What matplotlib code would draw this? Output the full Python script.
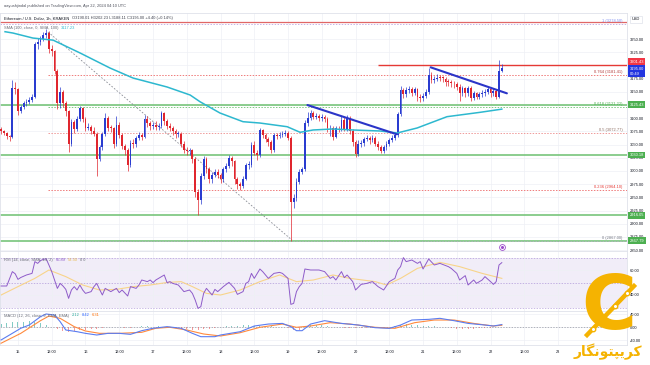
#!/usr/bin/env python3
# plot.py - ETH/USD 1h chart (Kraken) with SMA100, fib levels, RSI and MACD panes

import numpy as np
import matplotlib
matplotlib.use('Agg')
import matplotlib.pyplot as plt
from matplotlib.lines import Line2D
from matplotlib.transforms import blended_transform_factory, offset_copy

# ---- candles, one per hour, index 0 = Apr 14 18:00 ----
closes = [3075, 3072, 3066, 3064, 3157, 3155, 3114, 3122, 3128, 3131,
          3135, 3140, 3240, 3244, 3250, 3258, 3262, 3231, 3227, 3190,
          3128, 3150, 3128, 3113, 3052, 3093, 3080, 3099, 3119, 3098,
          3082, 3084, 3076, 3071, 3023, 3045, 3070, 3101, 3082, 3081,
          3052, 3088, 3068, 3048, 3040, 3011, 3053, 3051, 3062, 3068,
          3065, 3099, 3090, 3085, 3088, 3084, 3085, 3109, 3094, 3085,
          3082, 3075, 3070, 3070, 3052, 3040, 3037, 3039, 3023, 2960,
          2945, 2990, 3022, 3003, 2984, 2993, 2999, 2992, 2985, 3004,
          3010, 3024, 3018, 2984, 2975, 2971, 2985, 3011, 3012, 3049,
          3035, 3030, 3077, 3068, 3060, 3054, 3040, 3068, 3066, 3069,
          3070, 3072, 3063, 2942, 2948, 2980, 2999, 3003, 3090, 3100,
          3109, 3103, 3104, 3100, 3102, 3099, 3081, 3082, 3065, 3081,
          3080, 3097, 3080, 3100, 3076, 3055, 3033, 3052, 3053, 3060,
          3062, 3058, 3062, 3052, 3046, 3038, 3045, 3052, 3058, 3063,
          3068, 3108, 3154, 3145, 3154, 3156, 3148, 3155, 3140, 3138,
          3143, 3150, 3182, 3172, 3175, 3177, 3176, 3175, 3169, 3168,
          3166, 3165, 3160, 3147, 3157, 3147, 3158, 3138, 3147, 3141,
          3146, 3148, 3150, 3156, 3147, 3152, 3141, 3190.01, 3195.00]
highs = [3084, 3078, 3074, 3069, 3172, 3168, 3158, 3126, 3133, 3136,
         3140, 3146, 3244, 3252, 3256, 3264, 3270, 3266, 3238, 3230,
         3194, 3160, 3154, 3132, 3116, 3098, 3097, 3104, 3124, 3122,
         3102, 3090, 3088, 3084, 3074, 3050, 3074, 3110, 3104, 3088,
         3084, 3104, 3092, 3072, 3052, 3044, 3058, 3060, 3066, 3074,
         3072, 3106, 3104, 3094, 3092, 3094, 3090, 3114, 3112, 3098,
         3090, 3086, 3080, 3076, 3074, 3056, 3046, 3044, 3042, 3026,
         2966, 2996, 3028, 3026, 3008, 2998, 3004, 3004, 2996, 3008,
         3016, 3030, 3028, 3020, 2988, 2980, 2990, 3016, 3018, 3054,
         3056, 3040, 3082, 3080, 3072, 3064, 3058, 3072, 3072, 3074,
         3076, 3078, 3076, 3066, 2956, 2986, 3004, 3008, 3096, 3112,
         3116, 3114, 3110, 3108, 3108, 3106, 3102, 3088, 3086, 3086,
         3086, 3104, 3102, 3106, 3104, 3080, 3058, 3058, 3058, 3064,
         3068, 3066, 3068, 3066, 3056, 3050, 3050, 3056, 3062, 3068,
         3074, 3112, 3162, 3158, 3160, 3162, 3160, 3160, 3158, 3146,
         3148, 3156, 3196, 3188, 3180, 3184, 3182, 3180, 3178, 3174,
         3172, 3170, 3168, 3164, 3162, 3160, 3162, 3162, 3152, 3150,
         3150, 3154, 3156, 3160, 3160, 3158, 3156, 3210, 3202.23]
lows = [3070, 3068, 3060, 3056, 3062, 3146, 3106, 3110, 3118, 3124,
        3127, 3130, 3138, 3232, 3238, 3246, 3252, 3224, 3218, 3184,
        3118, 3120, 3122, 3104, 3036, 3048, 3072, 3076, 3094, 3092,
        3076, 3078, 3070, 3066, 2990, 3018, 3040, 3066, 3076, 3074,
        3044, 3048, 3062, 3042, 3030, 3000, 3008, 3044, 3046, 3058,
        3058, 3062, 3084, 3078, 3080, 3078, 3078, 3082, 3088, 3080,
        3076, 3068, 3062, 3064, 3046, 3034, 3030, 3030, 3016, 2950,
        2916, 2938, 2984, 2996, 2978, 2978, 2988, 2986, 2978, 2980,
        2998, 3006, 3010, 2976, 2966, 2964, 2968, 2982, 3004, 3008,
        3030, 3020, 3026, 3062, 3054, 3048, 3034, 3036, 3060, 3062,
        3064, 3066, 3058, 2867, 2930, 2944, 2976, 2994, 3000, 3086,
        3096, 3098, 3098, 3094, 3094, 3092, 3074, 3066, 3058, 3062,
        3074, 3076, 3076, 3076, 3070, 3048, 3026, 3028, 3046, 3048,
        3056, 3052, 3054, 3048, 3040, 3034, 3034, 3040, 3048, 3054,
        3058, 3064, 3104, 3138, 3140, 3148, 3142, 3144, 3132, 3130,
        3132, 3138, 3146, 3166, 3166, 3170, 3170, 3168, 3162, 3162,
        3160, 3158, 3154, 3132, 3142, 3140, 3142, 3132, 3134, 3136,
        3136, 3140, 3142, 3146, 3140, 3142, 3136, 3138, 3188.11]
first_open = 3080

# SMA 100 (sampled along the curve)
sma_idx = [1.4, 4.2, 11.3, 18.5, 28.1, 38.7, 46.9, 59.0, 67.2, 70.7, 77.8, 86.0,
           92.0, 101.7, 106.3, 110.9, 118.0, 125.1, 134.7, 140.8, 147.9, 158.5,
           170.3, 178.0]
sma_val = [3264, 3261.5, 3252, 3248, 3223.6, 3195.2, 3176.2, 3159.2, 3144, 3131.3,
           3109.9, 3093.4, 3090.9, 3083.9, 3073.3, 3077.7, 3079.6, 3077.7, 3075.8,
           3072, 3081.5, 3102.9, 3111.2, 3117.23]

# horizontal levels
green_levels = [3125.43, 3030.18, 2916.05, 2867.79]
resistance = 3201.43
top_line = 3283.0
fib_names = ['1', '0.764', '0.618', '0.5', '0.236', '0']
fib_prices = [3278.50, 3181.41, 3121.22, 3072.77, 2964.10, 2867.00]
fib_colors = ['#7e8ef0', '#b33a3a', '#4caf50', '#8d6e63', '#e53935', '#787b86']
fib_line_colors = ['#c5b3e6', '#ef7b7b', '#81c784', '#ef9a9a', '#ef7b7b', '#b0b3bb']

# drawings: (index, price) end points
trend1 = [(108.9, 3125.0), (140.7, 3069.5)]
trend2 = [(152.7, 3196.5), (179.8, 3147.2)]
fib_diag = [(16.7, 3263.4), (103.4, 2869.1)]

# RSI 14 and its SMA 14
rsi_idx = [0, 2, 4, 5, 6, 7, 9, 11, 12, 13,
           14, 15, 16, 17, 18, 19, 20, 21, 22, 23,
           24, 25, 26, 27, 28, 29, 30, 32, 33, 34,
           35, 36, 37, 39, 40, 41, 42, 43, 45, 46,
           48, 49, 50, 52, 53, 54, 55, 58, 59, 60,
           61, 63, 64, 65, 67, 68, 69, 70, 71, 72,
           73, 74, 75, 76, 77, 79, 81, 83, 84, 86,
           87, 88, 89, 90, 92, 93, 95, 97, 99, 100,
           102, 103, 104, 105, 106, 107, 108, 110, 112, 113,
           115, 117, 118, 119, 121, 122, 123, 125, 126, 128,
           130, 132, 134, 136, 138, 140, 141, 142, 143, 144,
           146, 148, 149, 150, 152, 154, 156, 159, 160, 162,
           163, 165, 166, 168, 169, 171, 172, 174, 175, 176,
           177, 178]
rsi_val = [47.2, 47.2, 58.7, 57.0, 52.5, 54.0, 56.0, 57.3, 66.7, 65.3,
           67.5, 68.5, 69.0, 64.0, 58.7, 52.0, 45.3, 49.3, 47.2, 44.5,
           37.3, 44.0, 46.7, 44.0, 48.0, 44.0, 41.3, 42.7, 46.7, 49.3,
           44.5, 40.0, 45.3, 42.7, 44.0, 45.3, 41.9, 44.0, 39.2, 46.7,
           45.3, 48.0, 52.0, 50.7, 52.0, 49.9, 52.0, 56.0, 49.9, 50.7,
           49.3, 48.0, 45.3, 42.7, 44.0, 41.3, 36.0, 29.3, 30.7, 41.3,
           45.3, 42.7, 40.0, 44.5, 42.7, 46.7, 50.1, 45.3, 40.5, 42.7,
           49.3, 50.7, 57.3, 53.3, 60.8, 58.7, 53.3, 57.3, 58.1, 57.3,
           53.3, 32.5, 33.3, 42.7, 46.7, 49.3, 60.8, 60.0, 60.0, 60.0,
           58.7, 53.3, 54.7, 52.0, 58.7, 53.9, 56.0, 50.7, 44.0, 48.5,
           49.3, 50.7, 46.7, 44.0, 50.7, 53.3, 60.0, 62.7, 69.9, 66.7,
           68.0, 65.3, 66.7, 60.8, 68.8, 64.0, 65.3, 62.7, 61.3, 57.3,
           52.0, 55.5, 48.0, 52.0, 49.3, 52.0, 54.7, 50.7, 48.5, 50.7,
           64.0, 65.89]
rsi_ma_idx = [0, 6, 12, 17, 23, 29, 35, 41, 47, 53, 59, 64, 68, 73, 78,
              85, 92, 99, 105, 111, 118, 124, 133, 137, 142, 148, 156, 163, 171, 178]
rsi_ma_val = [40.0, 46.7, 53.3, 60.0, 54.7, 48.0, 44.0, 44.5, 46.7, 48.0, 50.0, 50.7, 46.7, 41.3, 40.0,
              44.0, 50.7, 56.0, 50.7, 52.0, 56.0, 53.3, 50.7, 48.0, 53.3, 61.3, 66.1, 62.7, 57.3, 53.3]

# MACD 12/26/9
macd_idx = [0, 3, 7, 10, 14, 16, 19, 21, 23, 27,
            30, 34, 38, 42, 46, 50, 54, 59, 64, 68,
            71, 76, 78, 85, 90, 95, 100, 103, 105, 107,
            110, 115, 121, 127, 133, 138, 142, 146, 152, 156,
            161, 166, 172, 175, 178]
macd_val = [-39, -23.7, -3, 7, 32.7, 41, 37.8, 17.3, -8.3, -13.5,
            -18.6, -23.7, -18.6, -18.6, -21.7, -10.4, -3, 2, -3, -18.6,
            -28.9, -28.9, -23.7, -13.5, 4, 10, 12, 2, -10.4, -10.4,
            10, 20.4, 12, 7, -1.2, -3.2, 7, 22.4, 24.5, 27.6,
            20.4, 12, 7, 4, 8.43]
sig_idx = [0, 7, 14, 17, 21, 26, 30, 35, 42, 50, 55, 60, 66, 72, 78,
           85, 92, 100, 105, 110, 117, 124, 133, 140, 147, 154, 161, 168, 175, 178]
sig_val = [-49, -18.6, 20.4, 34.7, 27.6, 2, -11.4, -18.6, -18.6, -15.5, -3, 0, -8.3, -20.6, -26.8,
           -16.6, 0, 10, 0, 4, 14.2, 10, 0, -3.2, 14.2, 22.4, 22.4, 12, 4, 6.31]
hist_val = [10, 12, 15, 16, 17, 18, 16, 12, 7, 2,
            -6, -12, -13, -12, -9, -7, -6, -4, -2, 0,
            1, 0, -2, -3, 2, 5, 5, 3, 3, 2,
            1, -1, -3, -5, -7, -8, -6, -4, -2, 2,
            4, 5, 5, 6, 6, 5, 5, 4, 3, 2,
            2, -2, -9, -8, 2, 7, 8, 7, 4, 2,
            0, -1, -2, -3, -3, -2, -2, -1, -1, 0,
            5, 8, 9, 8, 6, 4, 3, 3, 2, 0,
            -2, -4, -5, -5, -4, -3, -2, -1, 0, 2.1]

# time axis: ticks every 12h, Apr 15 00:00 is index 6
time_labels = ['15', '12:00', '16', '12:00', '17', '12:00', '18', '12:00', '19',
               '12:00', '20', '12:00', '21', '12:00', '22', '12:00', '23']
time_pos = [6 + 12 * k for k in range(len(time_labels))]

W, H = 650, 365
UP, DOWN = '#2a3cd0', '#e0262e'
GRID = '#eef0f5'
TXT = '#131722'
GREY = '#6a6d78'

plt.rcParams['font.family'] = ['Liberation Sans', 'DejaVu Sans']

fig = plt.figure(figsize=(W / 100, H / 100), dpi=100)


def pane(top, bottom):
    return [0, 1 - bottom / H, 627 / W, (bottom - top) / H]


def chain(xp, yp, parts, size=2.9):
    r = fig.canvas.get_renderer()
    for s, col in parts:
        t = fig.text(xp / W, 1 - yp / H, s, fontsize=size, color=col, va='center')
        xp += t.get_window_extent(r).width + 2.5


ax = fig.add_axes(pane(13.3, 251))
ax_rsi = fig.add_axes(pane(251, 311), sharex=ax)
ax_macd = fig.add_axes(pane(311, 345), sharex=ax)

for a in (ax, ax_rsi, ax_macd):
    for s in a.spines.values():
        s.set_color('#dfe2ea')
        s.set_linewidth(0.6)
    a.yaxis.tick_right()
    a.tick_params(length=0, labelsize=2.9, labelcolor=TXT, pad=1.8)
    a.grid(True, color=GRID, lw=0.5)
    a.set_axisbelow(True)
ax_macd.set_xticks(time_pos)
ax_macd.set_xticklabels(time_labels)
ax_macd.tick_params(axis='x', pad=3.6, labelsize=2.8)
ax.tick_params(axis='x', labelbottom=False)
ax_rsi.tick_params(axis='x', labelbottom=False)
ax.set_xlim(-0.39, 222.5)

# ---- main pane ----
ax.set_ylim(2848.3, 3298.9)
pticks = np.arange(2850, 3251, 25)
ax.set_yticks(pticks)
ax.set_yticklabels([f'{v:.2f}' for v in pticks])

x = np.arange(len(closes))
c = np.array(closes, float)
o = np.concatenate([[first_open], c[:-1]])
col = np.where(c >= o, UP, DOWN)
body = c - o
body = np.where(np.abs(body) < 1.3, 1.3, body)
ax.vlines(x, lows, highs, colors=col, lw=0.5, zorder=3)
ax.bar(x, body, bottom=o, width=0.64, color=col, lw=0, zorder=4)

for lv in green_levels:
    ax.axhline(lv, color='#6cc070', lw=1.1, zorder=2)
ax.axhline(top_line, color='#e06666', lw=0.9, zorder=2)
ax.hlines(resistance, 134, 222.5, color='#e53935', lw=1.0, zorder=2)

for i, (name, p) in enumerate(zip(fib_names, fib_prices)):
    x0 = -0.39 if name == '1' else fib_diag[0][0]
    ax.hlines(p, x0, 222.5, color=fib_line_colors[i], lw=0.7, ls=(0, (1.5, 1.5)), zorder=2)
    ax.text(221, p + 2, f'{name} ({p:.2f})', ha='right', va='bottom', fontsize=2.9,
            color=fib_colors[i], zorder=7)

(dx0, dy0), (dx1, dy1) = fib_diag
ax.plot([dx0, dx1], [dy0, dy1], color='#8a8d96', lw=0.6, ls=(0, (2, 2)), zorder=2)

ax.plot(sma_idx, sma_val, color='#2db8cf', lw=1.1, zorder=5)

for tl in (trend1, trend2):
    (a0, b0), (a1, b1) = tl
    ax.plot([a0, a1], [b0, b1], color='#2b35c8', lw=1.5, solid_capstyle='round', zorder=6)

ax.plot(178, 2855, 'o', ms=4.2, mfc='white', mec='#9c4dcc', mew=0.6, zorder=7, clip_on=False)
ax.plot(178, 2855, 'o', ms=1.2, color='#9c4dcc', zorder=8, clip_on=False)

# price tags on the axis
axis_tr = blended_transform_factory(ax.transAxes, ax.transData)


def tag(price, text, color, dy=0):
    tr = offset_copy(axis_tr, fig=fig, x=0, y=dy, units='dots')
    ax.text(1.0 + 2.5 / 627, price, text, transform=tr, ha='left', va='center',
            fontsize=2.9, color='white', clip_on=False, zorder=10, linespacing=1.3,
            bbox=dict(boxstyle='square,pad=0.35', fc=color, ec='none'))


for lv in green_levels:
    tag(lv, f'{lv:.2f}', '#4caf50')
tag(resistance, f'{resistance:.2f}', '#f23645', dy=3)
tag(closes[-1], f'{closes[-1]:.2f}\n00:49', '#2436e0', dy=-3)
ax.text(1.0 + 5 / 627, 1 - 6 / 237.7, 'USD', transform=ax.transAxes, fontsize=2.9,
        color=TXT, va='center', ha='left', clip_on=False,
        bbox=dict(boxstyle='square,pad=0.4', fc='white', ec='#dfe2ea', lw=0.5))

# legend texts
chain(4, 5.5, [('aayushjindal published on TradingView.com, Apr 22, 2024 04:10 UTC', '#50535e')])
chain(4, 18.5, [('Ethereum / U.S. Dollar, 1h, KRAKEN', TXT),
                ('O3190.01 H3202.23 L3188.11 C3195.00 +4.40 (+0.14%)', '#40434e')])
chain(4, 28, [('SMA (100, close, 0, SMA, 100)', GREY), ('3117.23', '#2db8cf')])

# ---- RSI pane ----
ax_rsi.set_ylim(27.2, 75.2)
ax_rsi.set_yticks([40, 60])
ax_rsi.set_yticklabels(['40.00', '60.00'])
ax_rsi.axhspan(30, 70, color='#7e57c2', alpha=0.1, lw=0, zorder=0)
for lv in (70, 50, 30):
    ax_rsi.axhline(lv, color='#9575cd', lw=0.5, ls=(0, (2, 2)), alpha=0.7, zorder=1)
ax_rsi.plot(rsi_ma_idx, rsi_ma_val, color='#f8d48a', lw=0.8, zorder=2)
ax_rsi.plot(rsi_idx, rsi_val, color='#8e5bc9', lw=0.7, zorder=3)
chain(4, 260, [('RSI (14, close, SMA, 14, 2)', GREY), ('65.89', '#8e5bc9'),
               ('53.30', '#e8b84a'), ('0 0', GREY)])

# ---- MACD pane ----
ax_macd.set_ylim(-54.5, 50.2)
ax_macd.set_yticks([-40, 0, 40])
ax_macd.set_yticklabels(['-40.00', '0.00', '40.00'])
ax_macd.axhline(0, color='#9598a1', lw=0.5, ls=(0, (2, 2)), zorder=1)
hist_x = np.arange(0, len(closes), 2)
hv = np.array(hist_val, float)
ax_macd.bar(hist_x, hv, width=0.35, color=np.where(hv >= 0, '#4db6ac', '#ef6f6f'),
            alpha=0.7, lw=0, zorder=2)
ax_macd.plot(sig_idx, sig_val, color='#ff8a3d', lw=0.8, zorder=3)
ax_macd.plot(macd_idx, macd_val, color='#5b7cf0', lw=0.8, zorder=4)
chain(4, 315.5, [('MACD (12, 26, close, 9, EMA, EMA)', GREY), ('2.12', '#26a69a'),
                 ('8.42', '#2962ff'), ('6.31', '#ff6d00')])

# ---- watermark (logo) ----
gold = '#f5b301'
fig.text(609 / W, 1 - 309 / H, 'C', fontsize=54, fontweight='bold', color=gold,
         ha='center', va='center', family='DejaVu Sans')
link = Line2D([634 / W, 587 / W], [1 - 286 / H, 1 - 335 / H], color=gold, lw=3.2,
              transform=fig.transFigure)
fig.add_artist(link)
knots = Line2D([627 / W, 615 / W, 603 / W, 593 / W], [1 - 293 / H, 1 - 306 / H, 1 - 318 / H, 1 - 329 / H],
               ls='none', marker='o', ms=3.2, mfc='white', mec=gold, mew=1.0,
               transform=fig.transFigure)
fig.add_artist(knots)
# Persian name in presentation forms, visual order
logo_text = '\uFEAD\uFE8E\uFB95\uFEE7\uFEEE\uFE98\uFB59\uFBFE\uFEAE\uFB90'
fig.text(608 / W, 1 - 352 / H, logo_text, fontsize=10, fontweight='bold', color=gold,
         ha='center', va='center', family='DejaVu Sans')

fig.savefig('out.png', dpi=100, facecolor='white')
